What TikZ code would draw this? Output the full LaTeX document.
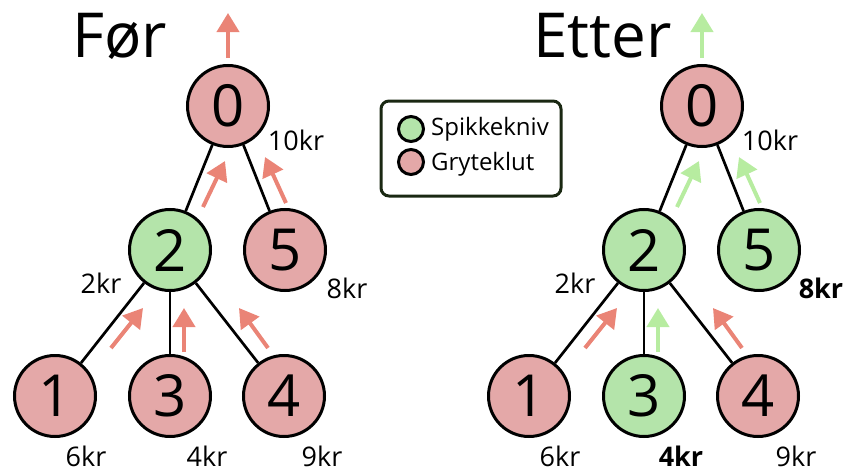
\documentclass[tikz,border=0pt]{standalone}
\usepackage{fontspec}
\setmainfont{Open Sans}
\usetikzlibrary{arrows.meta}
\definecolor{redfill}{RGB}{228,168,168}
\definecolor{greenfill}{RGB}{180,228,170}
\definecolor{redarrow}{RGB}{234,132,118}
\definecolor{greenarrow}{RGB}{183,236,160}
\definecolor{boxborder}{RGB}{26,40,18}
\tikzset{
  treenode/.style={circle, draw=black, line width=3pt, minimum size=81pt, inner sep=0pt,
    font=\fontsize{58}{58}\selectfont},
  rednode/.style={treenode, fill=redfill},
  greennode/.style={treenode, fill=greenfill},
  edge/.style={line width=2.7pt, draw=black},
  flow/.style={line width=4pt, -{Triangle[width=22pt,length=19pt]}},
  redflow/.style={flow, draw=redarrow, color=redarrow},
  greenflow/.style={flow, draw=greenarrow, color=greenarrow},
  price/.style={font=\fontsize{27}{27}\selectfont, inner sep=0pt},
  bprice/.style={price, font=\fontsize{27}{27}\selectfont\bfseries},
  title/.style={font=\fontsize{62}{62}\selectfont, inner sep=0pt, anchor=base west},
  legendtext/.style={font=\fontsize{24}{24}\selectfont, inner sep=0pt, anchor=west},
  legenddot/.style={circle, draw=black, line width=3pt, minimum size=25pt, inner sep=0pt}
}
\begin{document}
\begin{tikzpicture}[x=1pt,y=-1pt]
\useasboundingbox (0,0) rectangle (847,471);

% ---- before ----
\node[title] (t1) at (72,57) {Før};
\node[rednode]   (a0) at (228,106) {0};
\node[greennode] (a2) at (170,250) {2};
\node[rednode]   (a5) at (285,250) {5};
\node[rednode]   (a1) at (55,396) {1};
\node[rednode]   (a3) at (170,396) {3};
\node[rednode]   (a4) at (284,396) {4};
\draw[edge] (a0) -- (a2);
\draw[edge] (a0) -- (a5);
\draw[edge] (a2) -- (a1);
\draw[edge] (a2) -- (a3);
\draw[edge] (a2) -- (a4);
\node[price] (pa0) at (296,140) {10kr};
\node[price] (pa2) at (101,283) {2kr};
\node[price] (pa5) at (347,288) {8kr};
\node[price] (pa1) at (86,456) {6kr};
\node[price] (pa3) at (207,456) {4kr};
\node[price] (pa4) at (322,456) {9kr};
\coordinate (ua0s) at (228,58);  \coordinate (ua0e) at (228,13);
\coordinate (ua2s) at (203,207); \coordinate (ua2e) at (225,161);
\coordinate (ua5s) at (286,203); \coordinate (ua5e) at (265,157);
\coordinate (ua1s) at (111,348); \coordinate (ua1e) at (143,308);
\coordinate (ua3s) at (184,352); \coordinate (ua3e) at (184,308);
\coordinate (ua4s) at (268,348); \coordinate (ua4e) at (239,308);
\draw[redflow] (ua0s) -- (ua0e);
\draw[redflow] (ua2s) -- (ua2e);
\draw[redflow] (ua5s) -- (ua5e);
\draw[redflow] (ua1s) -- (ua1e);
\draw[redflow] (ua3s) -- (ua3e);
\draw[redflow] (ua4s) -- (ua4e);

% ---- legend ----
\node[draw=boxborder, line width=3pt, rounded corners=8pt, minimum width=180pt,
  minimum height=95pt, inner sep=0pt] (legend) at (471,148.5) {};
\node[legenddot, fill=greenfill] (lg) at (411,129) {};
\node[legenddot, fill=redfill]   (lr) at (411,162) {};
\node[legendtext] (lgt) at (431,129) {Spikkekniv};
\node[legendtext] (lrt) at (431,164) {Gryteklut};

% ---- after ----
\begin{scope}[xshift=474pt]
\node[title] (t2) at (59,57) {Etter};
\node[rednode]   (b0) at (228,106) {0};
\node[greennode] (b2) at (170,250) {2};
\node[greennode] (b5) at (285,250) {5};
\node[rednode]   (b1) at (55,396) {1};
\node[greennode] (b3) at (170,396) {3};
\node[rednode]   (b4) at (284,396) {4};
\draw[edge] (b0) -- (b2);
\draw[edge] (b0) -- (b5);
\draw[edge] (b2) -- (b1);
\draw[edge] (b2) -- (b3);
\draw[edge] (b2) -- (b4);
\node[price]  (pb0) at (296,140) {10kr};
\node[price]  (pb2) at (101,283) {2kr};
\node[bprice] (pb5) at (347,288) {8kr};
\node[price]  (pb1) at (86,456) {6kr};
\node[bprice] (pb3) at (207,456) {4kr};
\node[price]  (pb4) at (322,456) {9kr};
\coordinate (ub0s) at (228,58);  \coordinate (ub0e) at (228,13);
\coordinate (ub2s) at (203,207); \coordinate (ub2e) at (225,161);
\coordinate (ub5s) at (286,203); \coordinate (ub5e) at (265,157);
\coordinate (ub1s) at (111,348); \coordinate (ub1e) at (143,308);
\coordinate (ub3s) at (184,352); \coordinate (ub3e) at (184,308);
\coordinate (ub4s) at (268,348); \coordinate (ub4e) at (239,308);
\draw[greenflow] (ub0s) -- (ub0e);
\draw[greenflow] (ub2s) -- (ub2e);
\draw[greenflow] (ub5s) -- (ub5e);
\draw[redflow]   (ub1s) -- (ub1e);
\draw[greenflow] (ub3s) -- (ub3e);
\draw[redflow]   (ub4s) -- (ub4e);
\end{scope}
\end{tikzpicture}
\end{document}
